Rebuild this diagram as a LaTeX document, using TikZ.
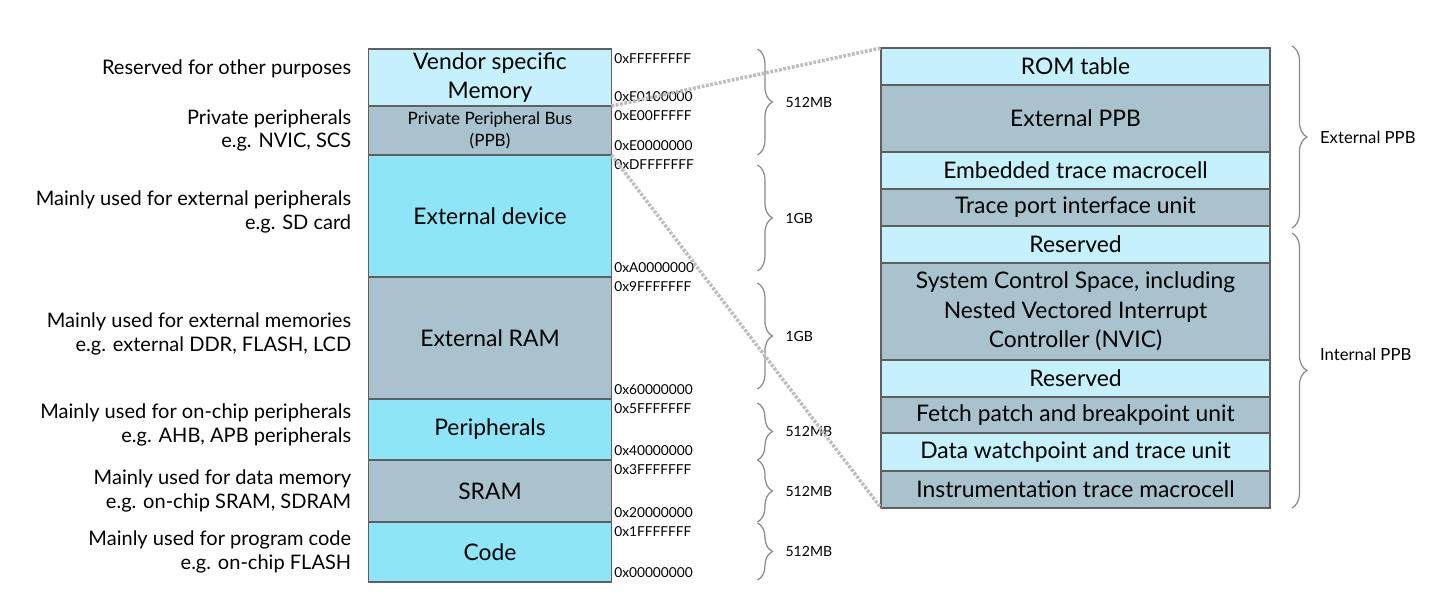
\documentclass[tikz,border=0pt]{standalone}
\usepackage{fontspec}
\setmainfont{Lato}
\usetikzlibrary{positioning,decorations.pathreplacing}

\definecolor{CyanLight}{HTML}{C4F1FC}
\definecolor{CyanDeep}{HTML}{8DE5F7}
\definecolor{GreyBlue}{HTML}{A8C3CE}
\definecolor{EdgeGrey}{HTML}{5F5F5F}
\definecolor{LinkGrey}{HTML}{BDBDBD}
\definecolor{BraceGrey}{HTML}{8A8A8A}

\newcommand{\MapBlock}[5]{% name, text, height (px), fill, block above
\node[MapBox,fill=#4,minimum height=#3*0.02cm,anchor=north,at=(#5.south)] (#1) {#2};
}
\newcommand{\PpbBlock}[5]{
\node[PpbBox,fill=#4,minimum height=#3*0.02cm,anchor=north,at=(#5.south)] (#1) {#2};
}
\newcommand{\AddrPair}[3]{% block, top address, bottom address
\node[Addr,anchor=north west] (#1-hi) at (#1.north east) {#2};
\node[Addr,anchor=south west] (#1-lo) at (#1.south east) {#3};
}
\newcommand{\SizeBrace}[4]{% name, top, bottom, label
\draw[Brace] (#2) -- (#3) node[BraceText,midway,right=0.55cm] (#1) {#4};
}
\tikzset{every node/.style={font=\fontsize{13}{16.8}\selectfont}}
\tikzset{MapBox/.style={draw=EdgeGrey,line width=1.1pt,minimum width=4.86cm,inner sep=0pt,outer sep=0pt,rectangle,align=center}}
\tikzset{PpbBox/.style={MapBox,minimum width=7.78cm}}
\tikzset{Addr/.style={font=\fontsize{7.8}{9}\selectfont,inner xsep=0.05cm,inner ysep=0.09cm}}
\tikzset{Note/.style={font=\fontsize{11.4}{13.6}\selectfont,align=right,inner sep=0pt}}
\tikzset{Brace/.style={decorate,decoration={brace,amplitude=0.3cm},draw=BraceGrey,line width=0.7pt}}
\tikzset{BraceText/.style={font=\fontsize{8}{9}\selectfont,inner sep=0pt,anchor=west}}
\tikzset{Link/.style={draw=LinkGrey,line width=2pt,dash pattern=on 1.6pt off 0.9pt}}

\begin{document}
\begin{tikzpicture}[x=0.02cm,y=-0.02cm]
\useasboundingbox (0,0) rectangle (1442,607);

% memory map
\node[MapBox,fill=CyanLight,minimum height=57*0.02cm] (vendor) at (490,77.5) {Vendor specific\\Memory};
\node[MapBox,fill=GreyBlue,minimum height=49*0.02cm,anchor=north,at=(vendor.south),font=\fontsize{9.7}{13}\selectfont] (ppb) {Private Peripheral Bus\\(PPB)};
\MapBlock{extdev}{External device}{122}{CyanDeep}{ppb}
\MapBlock{extram}{External RAM}{122}{GreyBlue}{extdev}
\MapBlock{periph}{Peripherals}{61}{CyanDeep}{extram}
\MapBlock{sram}{SRAM}{62}{GreyBlue}{periph}
\MapBlock{code}{Code}{60}{CyanDeep}{sram}

\AddrPair{vendor}{0xFFFFFFFF}{0xE0100000}
\AddrPair{ppb}{0xE00FFFFF}{0xE0000000}
\AddrPair{extdev}{0xDFFFFFFF}{0xA0000000}
\AddrPair{extram}{0x9FFFFFFF}{0x60000000}
\AddrPair{periph}{0x5FFFFFFF}{0x40000000}
\AddrPair{sram}{0x3FFFFFFF}{0x20000000}
\AddrPair{code}{0x1FFFFFFF}{0x00000000}

\node[Note,left=0.34cm of vendor,yshift=0.17cm] (vendor-note) {Reserved for other purposes};
\node[Note,left=0.34cm of ppb] (ppb-note) {Private peripherals\\e.g. NVIC, SCS};
\node[Note,left=0.34cm of extdev,yshift=0.08cm] (extdev-note) {Mainly used for external peripherals\\e.g. SD card};
\node[Note,left=0.34cm of extram,yshift=0.08cm] (extram-note) {Mainly used for external memories\\e.g. external DDR, FLASH, LCD};
\node[Note,left=0.34cm of periph,yshift=0.09cm] (periph-note) {Mainly used for on-chip peripherals\\e.g. AHB, APB peripherals};
\node[Note,left=0.34cm of sram] (sram-note) {Mainly used for data memory\\e.g. on-chip SRAM, SDRAM};
\node[Note,left=0.34cm of code] (code-note) {Mainly used for program code\\e.g. on-chip FLASH};

\SizeBrace{vendor-size}{[xshift=2.92cm]vendor.north east}{[xshift=2.92cm]ppb.south east}{512MB}
\SizeBrace{extdev-size}{[xshift=2.92cm,yshift=-0.2cm]extdev.north east}{[xshift=2.92cm,yshift=0.12cm]extdev.south east}{1GB}
\SizeBrace{extram-size}{[xshift=2.92cm,yshift=-0.12cm]extram.north east}{[xshift=2.92cm,yshift=0.2cm]extram.south east}{1GB}
\SizeBrace{periph-size}{[xshift=2.92cm,yshift=-0.08cm]periph.north east}{[xshift=2.92cm]periph.south east}{512MB}
\SizeBrace{sram-size}{[xshift=2.92cm]sram.north east}{[xshift=2.92cm]sram.south east}{512MB}
\SizeBrace{code-size}{[xshift=2.92cm,yshift=-0.02cm]code.north east}{[xshift=2.92cm,yshift=0.04cm]code.south east}{512MB}

% PPB detail
\node[PpbBox,fill=CyanLight,minimum height=37*0.02cm] (rom) at (1075.5,66.5) {ROM table};
\PpbBlock{extppb}{External PPB}{67}{GreyBlue}{rom}
\PpbBlock{etm}{Embedded trace macrocell}{37}{CyanLight}{extppb}
\PpbBlock{tpiu}{Trace port interface unit}{37}{GreyBlue}{etm}
\PpbBlock{resv1}{Reserved}{37}{CyanLight}{tpiu}
\PpbBlock{scs}{System Control Space, including\\Nested Vectored Interrupt\\Controller (NVIC)}{97}{GreyBlue}{resv1}
\PpbBlock{resv2}{Reserved}{37}{CyanLight}{scs}
\PpbBlock{fpb}{Fetch patch and breakpoint unit}{36}{GreyBlue}{resv2}
\PpbBlock{dwt}{Data watchpoint and trace unit}{38}{CyanLight}{fpb}
\PpbBlock{itm}{Instrumentation trace macrocell}{37}{GreyBlue}{dwt}

\draw[Brace] ([xshift=0.44cm,yshift=0.04cm]rom.north east) -- ([xshift=0.44cm,yshift=-0.04cm]tpiu.south east)
	node[BraceText,midway,right=0.55cm,font=\fontsize{9.5}{11}\selectfont] (ext-ppb) {External PPB};
\draw[Brace] ([xshift=0.44cm,yshift=-0.14cm]resv1.north east) -- ([xshift=0.44cm]itm.south east)
	node[BraceText,midway,right=0.55cm,yshift=0.32cm,font=\fontsize{9.5}{11}\selectfont] (int-ppb) {Internal PPB};

	\draw[Link] (vendor.south east) -- (rom.north west);
	\draw[Link] (ppb.south east) -- (itm.south west);

\end{tikzpicture}
\end{document}
